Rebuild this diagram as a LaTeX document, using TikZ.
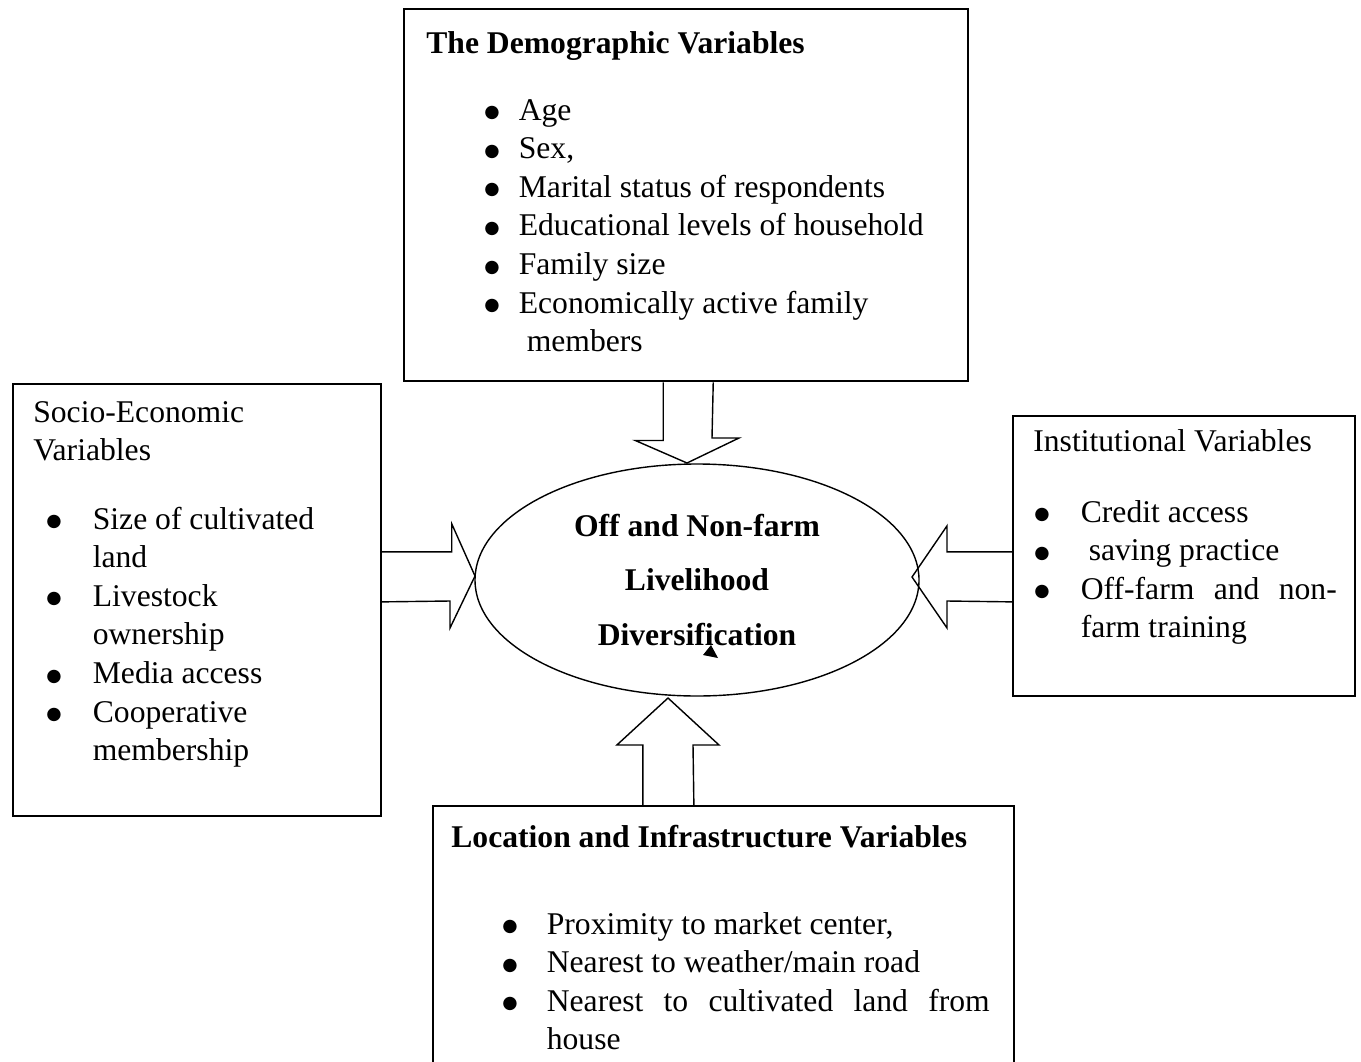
\documentclass[tikz,border=0pt]{standalone}
\usepackage{fontspec}
\setmainfont{Liberation Serif}
\newfontfamily\dotfont{DejaVu Sans}
\usetikzlibrary{shapes.geometric,calc}

\newcommand\unitpx{0.02cm}
\newcommand\bul{\raisebox{0.08em}{\dotfont\fontsize{10}{10}\selectfont ●}}

\tikzset{
  varbox/.style={draw, rectangle, line width=1pt, inner sep=0pt, anchor=north west},
  fatarrow/.style={draw, line width=0.8pt, line join=miter},
  txt/.style={anchor=base west, inner sep=0pt, font=\fontsize{18}{22}\selectfont},
  titletxt/.style={txt, font=\fontsize{18}{22}\selectfont\bfseries},
}

\begin{document}
\begin{tikzpicture}[x=\unitpx, y=-\unitpx]
        \useasboundingbox (0,0) rectangle (1361,1061);

        % the five shapes
        \node[varbox, line width=1.4pt, minimum width={564*\unitpx}, minimum height={372*\unitpx}] (demo) at (403,8) {};
        \node[varbox, minimum width={368*\unitpx}, minimum height={432*\unitpx}] (soci) at (12,383) {};
        \node[varbox, minimum width={342*\unitpx}, minimum height={280*\unitpx}] (inst) at (1012,415) {};
        \node[varbox, minimum width={581*\unitpx}, minimum height={265*\unitpx}] (loc) at (432,805) {};
        \node[ellipse, draw, line width=0.8pt, inner sep=0pt, minimum width={444*\unitpx}, minimum height={232*\unitpx}] (core) at (697,580) {};

        % texts
        \node[titletxt] (demotitle) at (426,54) {The Demographic Variables};
        \node[txt] (demolist) at (484,120) {\begin{tabular}[t]{@{}p{0.69cm}@{}l@{}}
            \bul & Age\\
            \bul & Sex,\\
            \bul & Marital status of respondents\\
            \bul & Educational levels of household\\
            \bul & Family size\\
            \bul & Economically active family\\
                 & \ members
          \end{tabular}};

        \node[txt] (socititle) at (33,422) {\begin{tabular}[t]{@{}l@{}}Socio-Economic\\Variables\end{tabular}};
        \node[txt] (socilist) at (46,529) {\begin{tabular}[t]{@{}p{0.93cm}@{}l@{}}
            \bul & Size of cultivated\\
                 & land\\
            \bul & Livestock\\
                 & ownership\\
            \bul & Media access\\
            \bul & Cooperative\\
                 & membership
          \end{tabular}};

        \node[txt] (insttitle) at (1033,451) {Institutional Variables};
        \node[txt] (instlist) at (1034,522) {\begin{tabular}[t]{@{}p{0.93cm}@{}l@{}}
            \bul & Credit access\\
            \bul & \ saving practice\\
            \bul & \makebox[5.12cm][s]{Off-farm and non-}\\
                 & farm training
          \end{tabular}};

        \node[titletxt] (loctitle) at (451,847) {Location and Infrastructure Variables};
        \node[txt] (loclist) at (502,934) {\begin{tabular}[t]{@{}p{0.89cm}@{}l@{}}
            \bul & Proximity to market center,\\
            \bul & Nearest to weather/main road\\
            \bul & \makebox[8.86cm][s]{Nearest to cultivated land from}\\
                 & house
          \end{tabular}};

        \node[anchor=base, inner sep=0pt, font=\fontsize{18}{31.3}\selectfont\bfseries] (coretext) at (697,536) {\begin{tabular}[t]{@{}c@{}}
            Off and Non-farm\\
            Livelihood\\
            Diversification
          \end{tabular}};

        % block arrows into the core
        \draw[fatarrow] ($(demo.south)+(-23,0)$) -- ++(0,58) -- ++(-28,0) -- (687,463) -- (739,438) -- ++(-27,0) -- ($(demo.south)+(27,0)$);
        \draw[fatarrow] ($(loc.north)+(-80.5,0)$) -- ++(0,-60) -- ++(-26,0) -- (668,698) -- (719,745) -- ++(-26,0) -- ($(loc.north)+(-29.5,0)$);
        \draw[fatarrow] ($(soci.east)+(0,-48)$) -- ++(70,0) -- ++(0,-28) -- (475,576) -- (450,628) -- ++(0,-27) -- ($(soci.east)+(0,2)$);
        \draw[fatarrow] ($(inst.west)+(0,-4)$) -- ++(-65,0) -- ++(0,-26) -- (912,577) -- (947,628) -- ++(0,-27) -- ($(inst.west)+(0,46)$);

        % stray tip inside the core
        \fill (703,655) -- (711,645) -- (718,658) -- cycle;
\end{tikzpicture}
\end{document}
